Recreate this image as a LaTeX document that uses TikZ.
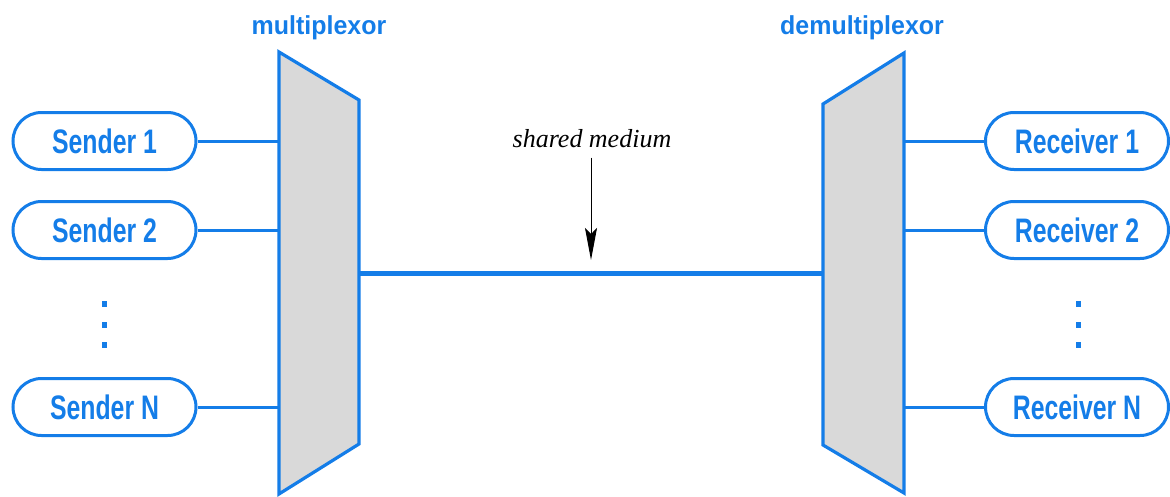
\documentclass[tikz,border=0pt]{standalone}
\usepackage{fontspec}
\usetikzlibrary{shapes.misc,arrows.meta}
\newfontfamily\boxfont{Liberation Sans}[FakeStretch=0.73]
\newfontfamily\titlefont{Liberation Sans}[FakeStretch=0.96]
\newfontfamily\notefont{Liberation Serif}
\definecolor{netblue}{RGB}{20,125,232}
\definecolor{muxgray}{RGB}{217,217,217}

\begin{document}
\begin{tikzpicture}[x=1pt,y=-1pt,
  endpoint/.style={rounded rectangle, draw=netblue, line width=3pt,
    minimum width=183pt, minimum height=57pt, inner sep=0pt, text=netblue,
    font=\boxfont\bfseries\fontsize{34}{40}\selectfont},
  wire/.style={draw=netblue, line width=3pt},
  medium/.style={draw=netblue, line width=5pt},
  muxbody/.style={draw=netblue, fill=muxgray, line width=3.2pt, line join=miter},
  title/.style={anchor=base, text=netblue, inner sep=0pt,
    font=\titlefont\bfseries\fontsize{26}{30}\selectfont},
  note/.style={anchor=base, inner sep=0pt,
    font=\notefont\itshape\fontsize{26}{30}\selectfont},
  pointer/.style={draw=black, line width=1pt,
    -{Stealth[length=32pt,width=12pt,inset=6pt]}},
  ellipsisdot/.style={fill=netblue, minimum width=5pt, minimum height=6pt,
    inner sep=0pt}
]
\useasboundingbox (0,0) rectangle (1170,496);

% multiplexor and demultiplexor bodies
\coordinate (mux-nw) at (279,52);
\coordinate (mux-e) at (359,273);
\draw[muxbody] (mux-nw) -- (359,100) -- (359,444) -- (279,494) -- cycle;
\coordinate (demux-ne) at (904,53);
\coordinate (demux-w) at (823,273);
\draw[muxbody] (823,104) -- (demux-ne) -- (904,493) -- (823,445) -- cycle;

% headings
\node[title] (muxlabel) at (319,34) {multiplexor};
\node[title] (demuxlabel) at (862,34) {demultiplexor};

% senders
\node[endpoint] (s1) at (104.5,141) {Sender 1};
\node[endpoint] (s2) at (104.5,230) {Sender 2};
\node[endpoint] (sn) at (104.5,407) {Sender N};
\node[ellipsisdot] (sd1) at (104,304) {};
\node[ellipsisdot] (sd2) at (104,325) {};
\node[ellipsisdot] (sd3) at (104,345) {};

% receivers
\node[endpoint] (r1) at (1077,141) {Receiver 1};
\node[endpoint] (r2) at (1077,230) {Receiver 2};
\node[endpoint] (rn) at (1077,407) {Receiver N};
\node[ellipsisdot] (rd1) at (1078,304) {};
\node[ellipsisdot] (rd2) at (1078,325) {};
\node[ellipsisdot] (rd3) at (1078,345) {};

% links into the multiplexor and out of the demultiplexor
\foreach \n in {s1,s2,sn}
  \draw[wire] (\n.east) -- (\n.east -| mux-nw);
\foreach \n in {r1,r2,rn}
  \draw[wire] (\n.west) -- (\n.west -| demux-ne);

% shared medium
\draw[medium] (mux-e) -- (demux-w);
\node[note] (medlabel) at (592,147) {shared medium};
\coordinate (medtip) at (591,260);
\draw[pointer] (medlabel.south -| medtip) ++(0,10) -- (medtip);
\end{tikzpicture}
\end{document}
